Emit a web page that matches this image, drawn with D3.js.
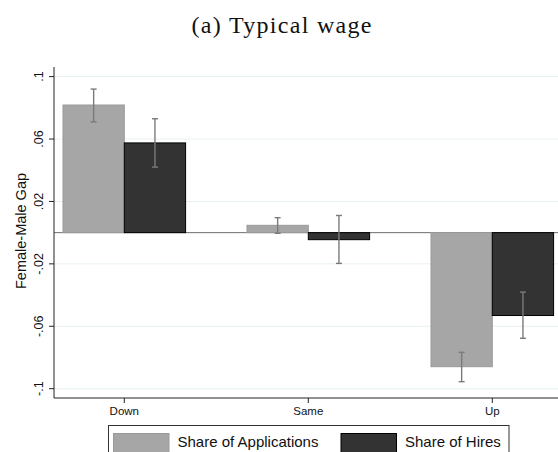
<!DOCTYPE html>
<html>
<head>
<meta charset="utf-8">
<script src="https://cdn.jsdelivr.net/npm/d3@7"></script>
<style>
  html, body { margin: 0; padding: 0; background: #fff; }
  svg { display: block; }
</style>
</head>
<body>
<svg id="chart" width="558" height="452"></svg>
<script>
// ---- data ----
const categories = ["Down", "Same", "Up"];
const seriesNames = ["Share of Applications", "Share of Hires"];
const appsValues = [0.0818, 0.0047, -0.0859];
const appsLow    = [0.0710, -0.0004, -0.0955];
const appsHigh   = [0.0920, 0.0096, -0.0767];
const hiresValues = [0.0575, -0.0045, -0.0531];
const hiresLow    = [0.0420, -0.0197, -0.0677];
const hiresHigh   = [0.0730, 0.0110, -0.0381];
const yTickValues = [-0.1, -0.06, -0.02, 0.02, 0.06, 0.1];
const yTickLabels = ["-.1", "-.06", "-.02", ".02", ".06", ".1"];
const titleText = "(a) Typical wage";
const yTitle = "Female-Male Gap";

// ---- layout ----
const svg = d3.select("#chart");
const plotLeft = 54, plotRight = 558, plotTop = 67, plotBottom = 398;
const barW = 61.3;
const colors = ["#a6a6a6", "#333333"];
const strokes = ["#9a9a9a", "#000000"];

const x = d3.scalePoint().domain(categories).range([124.3, 492.3]).padding(0);
const y = d3.scaleLinear().domain([-0.1, 0.1]).range([388.7, 76.6]);

// gridlines
svg.append("g").selectAll("line").data(yTickValues).join("line")
  .attr("x1", plotLeft).attr("x2", plotRight)
  .attr("y1", d => y(d)).attr("y2", d => y(d))
  .attr("stroke", "#e8f0f1").attr("stroke-width", 1);

const series = [
  { name: seriesNames[0], vals: appsValues, lo: appsLow, hi: appsHigh, offset: -1 },
  { name: seriesNames[1], vals: hiresValues, lo: hiresLow, hi: hiresHigh, offset: 0 }
];

// zero line
svg.append("line")
  .attr("x1", plotLeft).attr("x2", plotRight)
  .attr("y1", y(0)).attr("y2", y(0))
  .attr("stroke", "#6e6e6e").attr("stroke-width", 1);

series.forEach((s, si) => {
  const g = svg.append("g");
  g.selectAll("rect").data(categories).join("rect")
    .attr("x", c => x(c) + s.offset * barW)
    .attr("width", barW)
    .attr("y", (c, i) => Math.min(y(s.vals[i]), y(0)))
    .attr("height", (c, i) => Math.abs(y(s.vals[i]) - y(0)))
    .attr("fill", colors[si])
    .attr("stroke", strokes[si])
    .attr("stroke-width", 1);
});

series.forEach((s, si) => {
  const g = svg.append("g").attr("stroke", "#7a7a7a").attr("stroke-width", 1.4).attr("fill", "none");
  categories.forEach((c, i) => {
    const cx = x(c) + s.offset * barW + barW / 2;
    g.append("line").attr("x1", cx).attr("x2", cx).attr("y1", y(s.lo[i])).attr("y2", y(s.hi[i]));
    g.append("line").attr("x1", cx - 3).attr("x2", cx + 3).attr("y1", y(s.lo[i])).attr("y2", y(s.lo[i]));
    g.append("line").attr("x1", cx - 3).attr("x2", cx + 3).attr("y1", y(s.hi[i])).attr("y2", y(s.hi[i]));
  });
});

// axes lines
svg.append("line").attr("x1", plotLeft).attr("x2", plotLeft).attr("y1", plotTop).attr("y2", plotBottom)
  .attr("stroke", "#222").attr("stroke-width", 1);
svg.append("line").attr("x1", plotLeft).attr("x2", plotRight).attr("y1", plotBottom).attr("y2", plotBottom)
  .attr("stroke", "#222").attr("stroke-width", 1);

// y ticks
const yt = svg.append("g");
yTickValues.forEach((v, i) => {
  yt.append("line").attr("x1", plotLeft - 5).attr("x2", plotLeft).attr("y1", y(v)).attr("y2", y(v))
    .attr("stroke", "#222");
  yt.append("text")
    .attr("transform", `translate(42.5,${y(v)}) rotate(-90)`)
    .attr("text-anchor", "middle")
    .attr("font-family", "Liberation Sans, Arial, sans-serif")
    .attr("font-size", 12.5)
    .attr("fill", "#111")
    .text(yTickLabels[i]);
});

// x ticks
const xt = svg.append("g");
categories.forEach(c => {
  xt.append("line").attr("x1", x(c)).attr("x2", x(c)).attr("y1", plotBottom).attr("y2", plotBottom + 5)
    .attr("stroke", "#222");
  xt.append("text")
    .attr("x", x(c)).attr("y", 415)
    .attr("text-anchor", "middle")
    .attr("font-family", "Liberation Sans, Arial, sans-serif")
    .attr("font-size", 11.5)
    .attr("fill", "#111")
    .text(c);
});

// y title
svg.append("text")
  .attr("transform", `translate(25.5,231) rotate(-90)`)
  .attr("text-anchor", "middle")
  .attr("font-family", "Liberation Sans, Arial, sans-serif")
  .attr("font-size", 14.5)
  .attr("fill", "#111")
  .text(yTitle);

// title
svg.append("text")
  .attr("x", 281.5).attr("y", 33)
  .attr("text-anchor", "middle")
  .attr("font-family", "Liberation Serif, Times New Roman, serif")
  .attr("font-size", 24)
  .attr("textLength", 180)
  .attr("lengthAdjust", "spacing")
  .attr("fill", "#111")
  .text(titleText);

// legend
const lg = svg.append("g");
lg.append("rect").attr("x", 108.5).attr("y", 425.5).attr("width", 400.5).attr("height", 40)
  .attr("fill", "#fff").attr("stroke", "#333").attr("stroke-width", 1);
const legendItems = [
  { name: seriesNames[0], sx: 113.5, tx: 177.5 },
  { name: seriesNames[1], sx: 341, tx: 405 }
];
legendItems.forEach((it, i) => {
  lg.append("rect").attr("x", it.sx).attr("y", 433.5).attr("width", 55.5).attr("height", 22)
    .attr("fill", colors[i]).attr("stroke", strokes[i]).attr("stroke-width", 1);
  lg.append("text").attr("x", it.tx).attr("y", 446.5)
    .attr("font-family", "Liberation Sans, Arial, sans-serif")
    .attr("font-size", 15)
    .attr("fill", "#111")
    .text(it.name);
});
</script>
</body>
</html>
